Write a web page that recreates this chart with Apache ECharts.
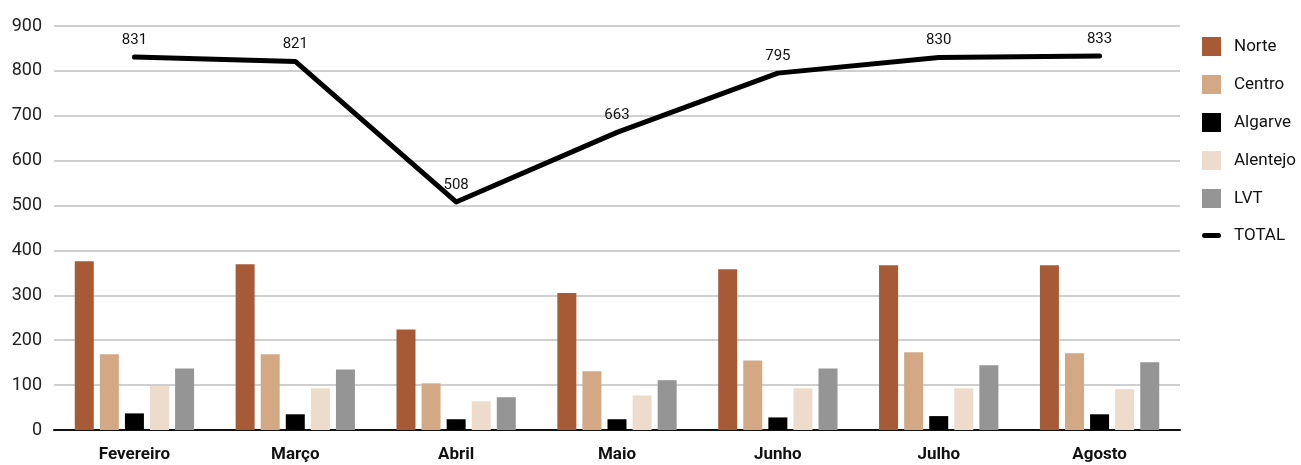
<!DOCTYPE html>
<html>
<head>
<meta charset="utf-8">
<script src="https://cdn.jsdelivr.net/npm/echarts@6/dist/echarts.min.js"></script>
<style>
  html, body { margin: 0; padding: 0; background: #fff; }
  #chart { width: 1301px; height: 465px; }
</style>
</head>
<body>
<div id="chart"></div>
<script>
// meses e valores
var meses = ['Fevereiro', 'Março', 'Abril', 'Maio', 'Junho', 'Julho', 'Agosto'];
var norte    = [376, 369, 224, 305, 358, 367, 367];
var centro   = [169, 169, 104, 131, 155, 173, 171];
var algarve  = [37, 35, 24, 24, 28, 31, 35];
var alentejo = [98, 93, 64, 77, 93, 93, 91];
var lvt      = [137, 135, 73, 111, 137, 144, 151];
var total    = [831, 821, 508, 663, 795, 830, 833];

var fonte = "'Roboto', 'Noto Sans', sans-serif";

var myChart = echarts.init(document.getElementById('chart'));

var barra = function (nome, dados, cor) {
    return {
        name: nome,
        type: 'bar',
        data: dados,
        barWidth: 19,
        barGap: '32%',
        itemStyle: { color: cor, borderRadius: 0 },
        animation: false
    };
};

// icone da linha TOTAL na legenda: traço curto de pontas redondas
var iconeLinha = 'path://M2.5,0 L16.5,0 A2.5,2.5 0 0 1 16.5,5 L2.5,5 A2.5,2.5 0 0 1 2.5,0 Z';

var option = {
    backgroundColor: '#fff',
    animation: false,
    grid: { left: 54, right: 121, top: 26, bottom: 35 },
    legend: {
        orient: 'vertical',
        left: 1197,
        top: 32,
        itemWidth: 19,
        itemHeight: 19,
        itemGap: 19,
        icon: 'rect',
        textStyle: { fontFamily: fonte, fontSize: 17, color: '#111', padding: [0, 0, 0, 8] },
        data: ['Norte', 'Centro', 'Algarve', 'Alentejo', 'LVT', { name: 'TOTAL', icon: iconeLinha }]
    },
    xAxis: {
        type: 'category',
        data: meses,
        axisTick: { show: false },
        axisLine: { lineStyle: { color: '#111', width: 2 } },
        axisLabel: { fontFamily: fonte, fontSize: 17, fontWeight: 'bold', color: '#111', margin: 16 }
    },
    yAxis: {
        type: 'value',
        min: 0,
        max: 900,
        interval: 100,
        axisLine: { show: false },
        axisTick: { show: false },
        axisLabel: { fontFamily: fonte, fontSize: 18, color: '#222', margin: 12 },
        splitLine: { lineStyle: { color: '#bfbfbf', width: 1.5 } }
    },
    series: [
        barra('Norte', norte, '#a65b36'),
        barra('Centro', centro, '#d2a984'),
        barra('Algarve', algarve, '#000000'),
        barra('Alentejo', alentejo, '#eddccb'),
        barra('LVT', lvt, '#959595'),
        {
            name: 'TOTAL',
            type: 'line',
            data: total,
            symbol: 'circle',
            symbolSize: 1,
            showSymbol: true,
            itemStyle: { color: '#000' },
            lineStyle: { color: '#000', width: 5, cap: 'round', join: 'round' },
            label: {
                show: true,
                position: 'top',
                distance: 9,
                fontFamily: fonte,
                fontSize: 15,
                color: '#111'
            },
            z: 5
        }
    ]
};
myChart.setOption(option);
</script>
</body>
</html>
